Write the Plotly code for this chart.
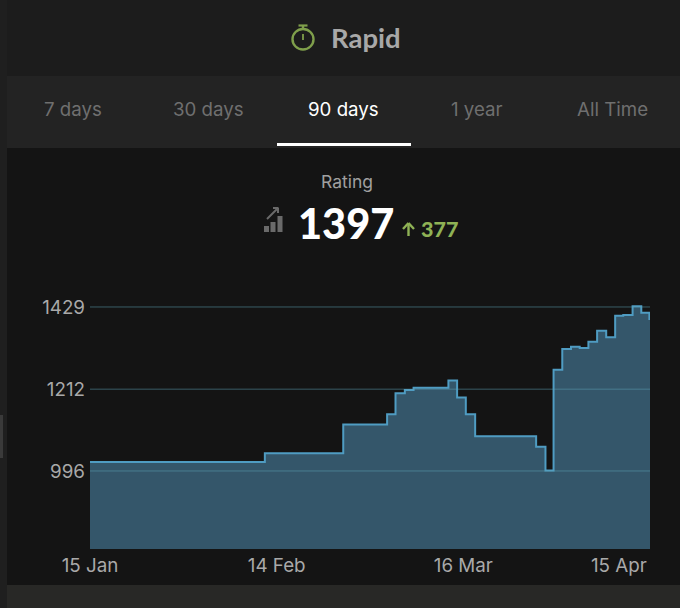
"""Rapid rating chart, 90 day view (dark profile card)"""
import pandas as pd
import plotly.graph_objects as go

# day on which each rating level starts, counted from 15 Jan
step_days = [0, 28.1, 40.7, 47.75, 49.1, 50.6, 52, 57.6, 59, 60.4, 61.9, 71.7, 73.2,
             74.5, 75.9, 77.3, 78.7, 80.1, 81.5, 82.96, 84.4, 85.7, 87.2, 88.6, 89.9, 90]
ratings = [1020, 1043, 1119, 1146, 1201, 1210, 1216, 1235, 1190, 1146, 1088, 1060, 997,
           1263, 1318, 1324, 1321, 1337, 1366, 1349, 1406, 1408, 1431, 1414, 1397, 1397]
y_ticks = [996, 1212, 1429]
x_tick_days = [0, 30, 60, 85]  # last label is pulled inside the card, as in the app
x_tick_labels = ["15 Jan", "14 Feb", "16 Mar", "15 Apr"]
tab_names = ["7 days", "30 days", "90 days", "1 year", "All Time"]
tab_centers = [73, 208, 343, 477, 612]

W, H = 680, 608
L, R, T, B = 90, 30, 295, 59
FONT = "Inter"
start = pd.Timestamp("2023-01-15")
dates = [start + pd.Timedelta(days=d) for d in step_days]
tick_dates = [start + pd.Timedelta(days=d) for d in x_tick_days]


# pixel position on the card -> paper coordinates of the plot area
def px(x):
    return (x - L) / (W - L - R)


def py(y):
    return (H - B - y) / (H - T - B)


def rect(x0, y0, x1, y1, color, layer="below"):
    return dict(type="rect", xref="paper", yref="paper", x0=px(x0), x1=px(x1), y0=py(y0), y1=py(y1),
                fillcolor=color, line_width=0, layer=layer)


def seg(x0, y0, x1, y1, color, width=2):
    return dict(type="line", xref="paper", yref="paper", x0=px(x0), x1=px(x1), y0=py(y0), y1=py(y1),
                line=dict(color=color, width=width), layer="above")


def label(x, y, text, size, color, anchor="center", family=FONT, weight=None):
    font = dict(family=family, size=size, color=color)
    if weight:
        font["weight"] = weight
    return dict(xref="paper", yref="paper", x=px(x), y=py(y), text=text, showarrow=False,
                xanchor=anchor, yanchor="middle", font=font)


fig = go.Figure()
fig.add_trace(go.Scatter(
    x=dates, y=ratings, mode="lines",
    line=dict(shape="hv", color="#4f9cc2", width=2),
    fill="tozeroy", fillcolor="#34566a",
    hoverinfo="skip", showlegend=False,
))

GREEN = "#7f9f4b"
LIME = "#8fb255"
shapes = [
    rect(0, 0, W, 76, "#1c1c1c"),
    rect(0, 76, W, 148, "#232323"),
    rect(0, 585, W, H, "#282826"),
    rect(0, 0, 7, H, "#1f1f1f"),
    rect(0, 415, 3, 458, "#3a3a3a"),
    rect(277, 143, 411, 146, "#ffffff"),
    # stopwatch icon
    dict(type="circle", xref="paper", yref="paper", x0=px(292.5), x1=px(313.5), y0=py(29), y1=py(49.5),
         line=dict(color=GREEN, width=2.4), layer="above"),
    seg(303, 25, 303, 29, GREEN, 2.4),
    seg(298.5, 25.5, 307.5, 25.5, GREEN, 2.2),
    seg(303, 34, 303, 40, GREEN, 1.8),
    # rating trend icon
    rect(264, 226, 269, 232, "#6a6a6a", "above"),
    rect(270.5, 222, 275.5, 232, "#6a6a6a", "above"),
    rect(277.5, 216, 282.5, 232, "#6a6a6a", "above"),
    seg(267, 219, 278, 208, "#6a6a6a", 2),
    seg(273, 208, 278.5, 208, "#6a6a6a", 2),
    seg(278, 208, 278, 213, "#6a6a6a", 2),
    # up arrow next to the gain
    seg(408.5, 236, 408.5, 224, LIME, 2.4),
    seg(403, 229, 408.5, 223, LIME, 2.4),
    seg(414, 229, 408.5, 223, LIME, 2.4),
]

annotations = [
    label(366, 37, "Rapid", 27.5, "#a8a8a8", family="Lato", weight=700),
    label(347, 181.5, "Rating", 17.5, "#a0a0a0"),
    label(346, 222.5, "1397", 41.5, "#ffffff", family="Lato", weight=900),
    label(439, 228.5, "377", 21.5, LIME, family="Lato", weight=900),
]
for name, cx in zip(tab_names, tab_centers):
    annotations.append(label(cx, 109, name, 18.7, "#ffffff" if name == "90 days" else "#6f6f6f"))

fig.update_layout(
    width=W, height=H,
    margin=dict(l=L, r=R, t=T, b=B),
    paper_bgcolor="#141414", plot_bgcolor="rgba(0,0,0,0)",
    shapes=shapes, annotations=annotations,
    font=dict(family=FONT, color="#a9a9a9", size=18.8),
    showlegend=False,
)
fig.update_xaxes(
    range=[start, start + pd.Timedelta(days=90)],
    tickmode="array", tickvals=tick_dates, ticktext=x_tick_labels,
    showgrid=False, zeroline=False, showline=False, ticks="", ticklabelstandoff=3,
)
fig.update_yaxes(
    range=[790, 1460.6],
    tickmode="array", tickvals=y_ticks, ticktext=[str(v) for v in y_ticks],
    showgrid=False, zeroline=False, showline=False, ticks="", ticklabelstandoff=4,
)
# rating guide lines run over the area, so they stay visible through it
for v in y_ticks:
    fig.add_hline(y=v, line=dict(color="rgba(95,165,185,0.5)", width=1), layer="above")

fig.write_html("out.html", config=dict(displayModeBar=False),
               post_script="document.body.style.margin='0';document.body.style.background='#141414';")
